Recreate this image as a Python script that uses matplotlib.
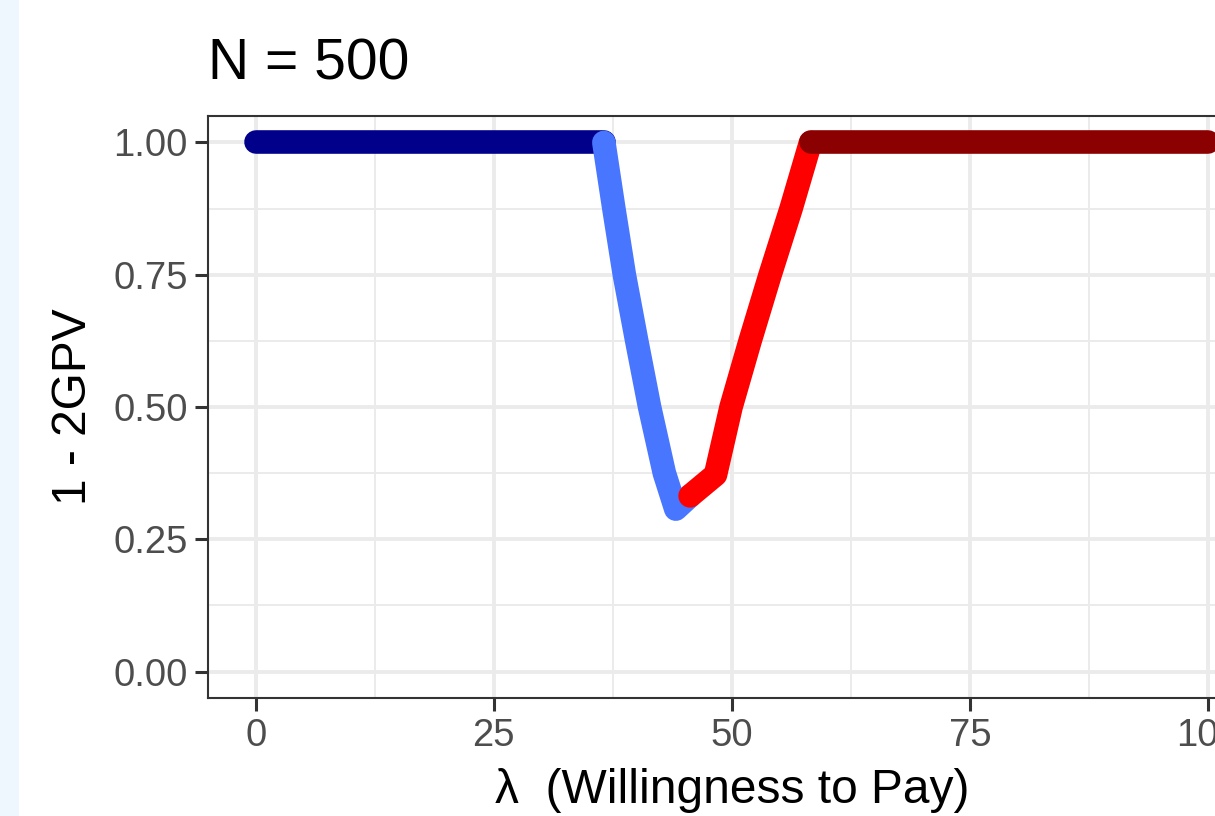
import matplotlib.pyplot as plt
from matplotlib.patches import Rectangle

# lambda (willingness to pay) vs 1 - 2GPV, split in four segments
lam_dark_blue = [0, 36.55]
gpv_dark_blue = [1.0, 1.0]

lam_blue = [36.55, 37.6, 38.7, 40.0, 41.35, 42.9, 44.1, 45.6]
gpv_blue = [1.0, 0.875, 0.75, 0.625, 0.50, 0.375, 0.307, 0.332]

lam_red = [45.6, 48.27, 49.9, 51.9, 54.0, 56.2, 58.24]
gpv_red = [0.332, 0.372, 0.50, 0.625, 0.75, 0.875, 1.0]

lam_dark_red = [58.24, 100]
gpv_dark_red = [1.0, 1.0]

x_ticks = [0, 25, 50, 75, 100]
y_ticks = [0.0, 0.25, 0.50, 0.75, 1.0]
y_tick_labels = ['0.00', '0.25', '0.50', '0.75', '1.00']

plt.rcParams['font.family'] = ['Liberation Sans', 'DejaVu Sans']

fig = plt.figure(figsize=(12.15, 8.16), dpi=100)
fig.patches.append(Rectangle((0, 0), 19 / 1215, 1, transform=fig.transFigure,
                             facecolor='#EEF7FE', edgecolor='none', zorder=0))

ax = fig.add_axes([208 / 1215, 1 - 698 / 816, 1048 / 1215, 582 / 816])
ax.set_xlim(-5, 105)
ax.set_ylim(-0.05, 1.05)

# grid like theme_bw
for v in [12.5, 37.5, 62.5, 87.5]:
    ax.axvline(v, color='#EBEBEB', lw=1.4, zorder=0)
for v in [0.125, 0.375, 0.625, 0.875]:
    ax.axhline(v, color='#EBEBEB', lw=1.4, zorder=0)
for v in x_ticks:
    ax.axvline(v, color='#EBEBEB', lw=2.8, zorder=0)
for v in y_ticks:
    ax.axhline(v, color='#EBEBEB', lw=2.8, zorder=0)

lw = 17
style = dict(lw=lw, solid_capstyle='round', solid_joinstyle='round')
ax.plot(lam_dark_blue, gpv_dark_blue, color='#00008B', **style)
ax.plot(lam_blue, gpv_blue, color='#4876FF', **style)
ax.plot(lam_red, gpv_red, color='#FF0000', **style)
ax.plot(lam_dark_red, gpv_dark_red, color='#8B0000', **style)

ax.set_xticks(x_ticks)
ax.set_xticklabels([str(t) for t in x_ticks])
ax.set_yticks(y_ticks)
ax.set_yticklabels(y_tick_labels)
ax.tick_params(length=9.5, width=2.2, color='#333333', labelcolor='#4D4D4D',
               labelsize=27.5, pad=5)
for s in ax.spines.values():
    s.set_color('#333333')
    s.set_linewidth(1.5)

fig.text(208 / 1215, 1 - 80 / 816, 'N = 500', fontsize=41, ha='left', va='baseline')
fig.text(732 / 1215, 1 - 803 / 816, 'λ  (Willingness to Pay)', fontsize=34.5,
         ha='center', va='baseline')
fig.text(73 / 1215, 1 - 407 / 816, '1 - 2GPV', fontsize=34.5, rotation=90,
         ha='center', va='center')

fig.savefig('out.png', dpi=100)
